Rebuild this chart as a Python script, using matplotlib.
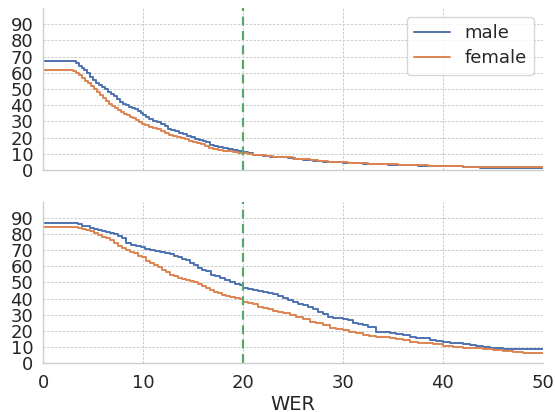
import matplotlib
matplotlib.use("Agg")
import matplotlib.pyplot as plt
import seaborn as sns

sns.set_theme(style="whitegrid")
plt.rcParams['font.family'] = ['DejaVu Sans']

threshold = 20
yticks = [0, 10, 20, 30, 40, 50, 60, 70, 80, 90]
xticks = [0, 10, 20, 30, 40, 50]

# top panel
top_male_x = [0, 0.01, 3.0, 3.3, 3.6, 3.9, 4.1, 4.4, 4.7, 5.0, 5.3, 5.6, 5.9, 6.2, 6.5, 6.8, 7.1, 7.4, 7.7, 8.0,
              8.3, 8.6, 8.9, 9.2, 9.5, 9.8, 10.0, 10.3, 10.6, 11.0, 11.4, 11.8, 12.2, 12.5, 12.8, 13.2, 13.6, 14.0,
              14.4, 14.8, 15.2, 15.6, 16.0, 16.3, 16.7, 17.1, 17.5, 18.0, 18.5, 19.0, 19.5, 20.0, 20.5, 21.0, 21.5,
              22.0, 22.7, 23.5, 24.5, 25.2, 26.0, 27.0, 28.0, 29.0, 30.0, 31.0, 32.0, 33.0, 34.5, 36.0, 37.5, 39.0,
              40.5, 42.0, 43.7, 45.0, 47.0, 50.0]
top_male_y = [100, 67.3, 67.0, 66.0, 64.5, 63.0, 61.5, 59.8, 57.6, 55.5, 53.8, 52.3, 51.0, 49.8, 48.3, 47.0, 45.5,
              43.8, 42.2, 41.0, 40.0, 39.1, 38.2, 37.4, 36.5, 35.3, 34.0, 32.6, 31.6, 30.5, 29.6, 28.6, 27.0, 25.5,
              24.7, 23.8, 22.8, 22.0, 21.0, 20.3, 19.4, 18.6, 17.8, 17.3, 15.2, 14.6, 14.0, 13.4, 12.8, 12.2, 11.6,
              11.0, 10.2, 9.5, 9.0, 8.6, 8.2, 7.8, 7.3, 6.8, 6.3, 5.7, 5.2, 4.8, 4.5, 4.2, 3.9, 3.6, 3.3, 3.0, 2.7,
              2.5, 2.3, 2.0, 1.5, 1.2, 1.1, 1.0]
top_female_x = [0, 0.01, 3.0, 3.3, 3.6, 3.9, 4.2, 4.5, 4.8, 5.1, 5.4, 5.7, 6.0, 6.3, 6.6, 6.9, 7.2, 7.5, 7.8, 8.1,
                8.4, 8.7, 9.0, 9.3, 9.6, 9.9, 10.2, 10.6, 11.0, 11.4, 11.8, 12.2, 12.6, 13.0, 13.4, 13.8, 14.2,
                14.6, 15.0, 15.4, 15.8, 16.2, 16.6, 17.0, 17.5, 18.0, 18.5, 19.0, 19.5, 20.0, 20.5, 21.0, 21.6,
                22.3, 23.0, 24.0, 25.0, 26.0, 26.7, 27.5, 28.5, 29.5, 30.5, 31.5, 32.5, 34.0, 35.5, 37.0, 38.5,
                40.0, 42.0, 44.0, 46.0, 48.0, 50.0]
top_female_y = [100, 61.7, 61.3, 60.0, 58.5, 57.0, 55.0, 53.5, 52.0, 50.0, 48.0, 46.3, 44.5, 42.5, 40.8, 39.5, 38.0,
                37.0, 35.7, 34.6, 33.8, 32.9, 31.8, 30.6, 29.5, 28.6, 27.8, 26.8, 25.8, 25.0, 24.2, 23.0, 21.8,
                21.0, 20.4, 19.7, 19.0, 18.1, 17.3, 16.5, 15.8, 15.0, 13.6, 13.0, 12.5, 12.0, 11.6, 11.2, 10.7,
                10.3, 9.8, 9.4, 9.0, 8.7, 8.2, 7.8, 7.0, 6.5, 6.0, 5.6, 5.1, 4.7, 4.4, 4.1, 3.8, 3.5, 3.2, 2.9, 2.7,
                2.4, 2.1, 1.9, 1.8, 1.7, 1.6]

# bottom panel
bot_male_x = [0, 0.01, 3.5, 3.9, 4.3, 4.7, 5.1, 5.5, 5.9, 6.3, 6.7, 7.1, 7.5, 7.9, 8.3, 8.8, 9.3, 9.8, 10.2, 10.7,
              11.2, 11.7, 12.2, 12.7, 13.1, 13.5, 13.9, 14.3, 14.7, 15.1, 15.5, 15.9, 16.3, 16.8, 17.2, 17.7, 18.2,
              18.7, 19.2, 19.7, 20.0, 20.5, 21.0, 21.5, 22.0, 22.5, 23.0, 23.5, 24.0, 24.5, 25.0, 25.5, 26.0, 26.5,
              27.0, 27.5, 28.0, 28.5, 29.0, 29.5, 30.0, 30.5, 31.0, 31.5, 32.0, 32.5, 33.3, 34.0, 34.7, 35.3, 36.0,
              36.7, 37.3, 38.0, 38.7, 39.3, 40.0, 40.7, 41.3, 42.0, 42.7, 43.3, 44.0, 44.7, 45.3, 46.0, 50.0]
bot_male_y = [100, 86.8, 86.0, 85.3, 84.8, 84.0, 83.2, 82.5, 81.8, 81.0, 80.5, 79.8, 79.0, 77.5, 74.5, 73.5, 72.8,
              72.2, 71.0, 70.3, 69.6, 69.1, 68.5, 67.7, 66.5, 65.5, 64.5, 63.8, 61.9, 61.0, 59.0, 57.5, 56.8, 54.5,
              53.8, 52.6, 51.5, 50.0, 49.0, 48.6, 46.5, 45.8, 45.3, 44.7, 44.3, 43.6, 42.8, 41.8, 40.6, 39.2, 37.6,
              36.3, 35.8, 34.6, 33.6, 31.5, 30.5, 28.6, 28.2, 27.8, 27.3, 26.5, 25.0, 24.2, 23.3, 22.6, 19.5, 19.0,
              18.3, 17.8, 17.3, 16.4, 15.7, 15.2, 14.5, 13.9, 12.9, 12.5, 12.1, 11.6, 11.0, 10.6, 10.1, 9.6, 9.0,
              8.8, 8.6]
bot_female_x = [0, 0.01, 3.5, 3.9, 4.3, 4.7, 5.1, 5.5, 5.9, 6.3, 6.7, 7.1, 7.5, 7.9, 8.3, 8.7, 9.1, 9.5, 9.9, 10.3,
                10.7, 11.1, 11.5, 11.9, 12.3, 12.7, 13.1, 13.5, 13.9, 14.3, 14.7, 15.1, 15.5, 15.9, 16.3, 16.7,
                17.1, 17.5, 17.9, 18.3, 18.7, 19.2, 19.7, 20.0, 20.5, 21.0, 21.5, 22.0, 22.5, 23.0, 23.5, 24.0,
                24.7, 25.3, 26.0, 26.7, 27.3, 28.0, 28.7, 29.3, 30.0, 30.6, 31.3, 32.0, 32.6, 33.3, 34.0, 34.7,
                35.3, 36.0, 36.7, 37.5, 38.3, 39.0, 40.0, 41.0, 42.0, 43.0, 44.0, 45.0, 46.0, 47.0, 48.0, 50.0]
bot_female_y = [100, 84.3, 83.7, 83.0, 82.5, 81.8, 80.5, 79.5, 78.5, 77.5, 76.2, 74.5, 72.8, 71.5, 70.0, 69.1, 68.0,
                66.5, 65.5, 63.0, 61.9, 60.8, 59.5, 58.0, 56.5, 54.7, 53.8, 53.0, 52.3, 51.5, 50.9, 50.0, 49.0,
                47.8, 46.8, 45.3, 44.2, 43.3, 42.5, 41.8, 41.0, 40.3, 39.5, 37.7, 37.2, 36.3, 34.8, 34.0, 33.2,
                32.0, 31.5, 31.0, 29.8, 28.6, 27.5, 25.7, 24.8, 23.5, 21.9, 21.2, 20.5, 19.5, 18.4, 17.6, 17.0,
                16.4, 16.0, 15.4, 14.9, 14.0, 13.2, 12.7, 12.2, 11.5, 10.8, 10.2, 9.5, 9.0, 8.7, 8.0, 7.5, 7.0,
                6.0, 6.0]

blue = "#4c72b0"
orange = "#dd8452"
green = "#55a868"

fig = plt.figure(figsize=(5.55, 4.12), dpi=100)
ax1 = fig.add_axes([0.0775, 0.5874, 0.9005, 0.3932])
ax2 = fig.add_axes([0.0775, 0.119, 0.9005, 0.391])

panels = [(ax1, top_male_x, top_male_y, top_female_x, top_female_y),
          (ax2, bot_male_x, bot_male_y, bot_female_x, bot_female_y)]
for ax, mx, my, fx, fy in panels:
    ax.plot(mx, my, drawstyle='steps-post', color=blue, lw=1.4, label='male')
    ax.plot(fx, fy, drawstyle='steps-post', color=orange, lw=1.4, label='female')
    ax.axvline(threshold, color=green, lw=1.6, ls=(0, (4, 2.5)))
    ax.set_xlim(0, 50)
    ax.set_ylim(0, 100)
    ax.set_yticks(yticks)
    ax.set_xticks(xticks)
    ax.grid(True, ls=(0, (2.5, 1.5)), lw=0.7, color='#cccccc')
    for s in ['top', 'right']:
        ax.spines[s].set_visible(False)
    for s in ['left', 'bottom']:
        ax.spines[s].set_color('#cccccc')
        ax.spines[s].set_linewidth(1.0)
    ax.tick_params(axis='both', labelsize=13, length=0, colors='#262626')
    ax.tick_params(axis='y', pad=7)
    ax.tick_params(axis='x', pad=8)

ax1.set_xticklabels([])
ax1.legend(loc='upper right', fontsize=13, frameon=True, handlelength=2.0,
           borderpad=0.4, labelspacing=0.4, handletextpad=0.8)
ax2.set_xlabel('WER', fontsize=14, color='#262626', labelpad=2)

fig.savefig('out.png', dpi=100)
